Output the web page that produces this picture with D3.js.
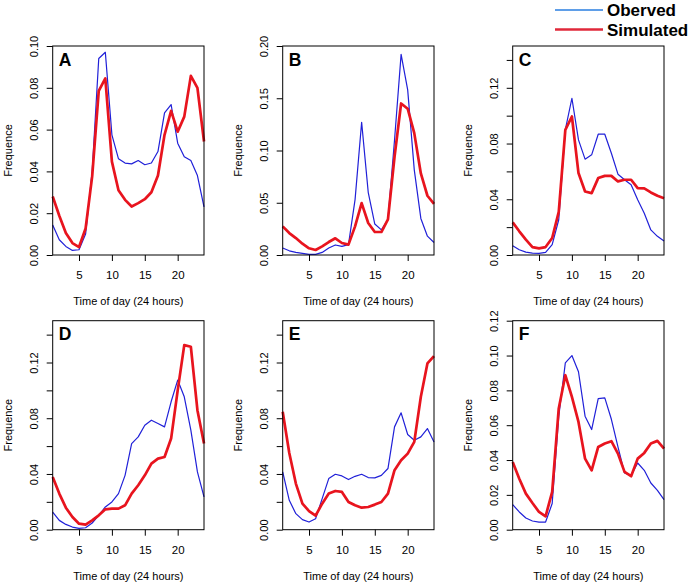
<!DOCTYPE html>
<html>
<head>
<meta charset="utf-8">
<script src="https://cdn.jsdelivr.net/npm/d3@7"></script>
<style>
  html, body { margin: 0; padding: 0; background: #fff; }
  svg { display: block; font-family: "Liberation Sans", Arial, sans-serif; }
</style>
</head>
<body>
<svg id="chart" width="689" height="584"></svg>
<script>
const hours = d3.range(1, 25);
const panelLetters = ["A", "B", "C", "D", "E", "F"];
const xTicks = [5, 10, 15, 20];
const yMax = [0.10, 0.20, 0.15, 0.15, 0.15, 0.12];
const yTickValues = [
  [0, 0.02, 0.04, 0.06, 0.08, 0.10],
  [0, 0.05, 0.10, 0.15, 0.20],
  [0, 0.02, 0.04, 0.06, 0.08, 0.10, 0.12, 0.14],
  [0, 0.02, 0.04, 0.06, 0.08, 0.10, 0.12, 0.14],
  [0, 0.02, 0.04, 0.06, 0.08, 0.10, 0.12, 0.14],
  [0, 0.02, 0.04, 0.06, 0.08, 0.10, 0.12]
];
const yTickLabels = [
  [0, 0.02, 0.04, 0.06, 0.08, 0.10],
  [0, 0.05, 0.10, 0.15, 0.20],
  [0, 0.04, 0.08, 0.12],
  [0, 0.04, 0.08, 0.12],
  [0, 0.04, 0.08, 0.12],
  [0, 0.02, 0.04, 0.06, 0.08, 0.10, 0.12]
];

const observedA = [0.0143,0.0073,0.0041,0.0022,0.0025,0.0100,0.0400,0.0940,0.0970,0.0575,0.0460,0.0440,0.0436,0.0452,0.0432,0.0440,0.0495,0.0680,0.0720,0.0535,0.0470,0.0452,0.0380,0.0230];
const simulatedA = [0.0280,0.0188,0.0105,0.0057,0.0038,0.0127,0.0376,0.0785,0.0845,0.0447,0.0310,0.0264,0.0232,0.0248,0.0267,0.0300,0.0380,0.0575,0.0690,0.0590,0.0662,0.0857,0.0800,0.0543];
const observedB = [0.0067,0.0040,0.0025,0.0016,0.0006,0.0006,0.0025,0.0067,0.0096,0.0083,0.0099,0.0530,0.1270,0.0600,0.0296,0.0240,0.0340,0.1100,0.1920,0.1580,0.0815,0.0350,0.0180,0.0120];
const simulatedB = [0.0274,0.0210,0.0162,0.0108,0.0064,0.0048,0.0083,0.0124,0.0160,0.0115,0.0099,0.0274,0.0497,0.0306,0.0220,0.0220,0.0340,0.0940,0.1450,0.1400,0.1166,0.0780,0.0567,0.0490];
const observedC = [0.0067,0.0038,0.0021,0.0014,0.0012,0.0019,0.0074,0.0253,0.0900,0.1125,0.0826,0.0688,0.0719,0.0867,0.0867,0.0730,0.0580,0.0540,0.0504,0.0396,0.0300,0.0180,0.0134,0.0100];
const simulatedC = [0.0234,0.0170,0.0110,0.0057,0.0048,0.0057,0.0122,0.0310,0.0898,0.0994,0.0588,0.0456,0.0444,0.0552,0.0568,0.0568,0.0528,0.0540,0.0540,0.0480,0.0478,0.0449,0.0425,0.0408];
const observedD = [0.0127,0.0067,0.0038,0.0019,0.0010,0.0014,0.0048,0.0103,0.0163,0.0199,0.0259,0.0390,0.0618,0.0666,0.0750,0.0786,0.0762,0.0738,0.0918,0.1074,0.0954,0.0714,0.0415,0.0235];
const simulatedD = [0.0379,0.0259,0.0158,0.0091,0.0043,0.0036,0.0067,0.0103,0.0146,0.0151,0.0151,0.0175,0.0259,0.0319,0.0390,0.0474,0.0510,0.0522,0.0654,0.1000,0.1325,0.1313,0.0858,0.0618];
const observedE = [0.0415,0.0211,0.0115,0.0072,0.0055,0.0079,0.0223,0.0367,0.0398,0.0386,0.0360,0.0383,0.0398,0.0374,0.0372,0.0390,0.0439,0.0738,0.0839,0.0683,0.0642,0.0666,0.0726,0.0630];
const simulatedE = [0.0846,0.0551,0.0331,0.0187,0.0134,0.0101,0.0187,0.0259,0.0278,0.0271,0.0199,0.0175,0.0158,0.0163,0.0180,0.0199,0.0259,0.0427,0.0498,0.0546,0.0630,0.0954,0.1193,0.1246];
const observedF = [0.0144,0.0102,0.0067,0.0050,0.0044,0.0044,0.0150,0.0650,0.0958,0.1000,0.0907,0.0652,0.0575,0.0753,0.0757,0.0634,0.0475,0.0326,0.0312,0.0383,0.0341,0.0268,0.0226,0.0173];
const simulatedF = [0.0389,0.0293,0.0207,0.0153,0.0102,0.0077,0.0217,0.0696,0.0887,0.0763,0.0619,0.0408,0.0341,0.0475,0.0495,0.0508,0.0437,0.0332,0.0307,0.0408,0.0441,0.0495,0.0510,0.0466];

const observedAll = [observedA, observedB, observedC, observedD, observedE, observedF];
const simulatedAll = [simulatedA, simulatedB, simulatedC, simulatedD, simulatedE, simulatedF];

const xTitle = "Time of day (24 hours)";
const yTitle = "Frequence";
const legendLabels = ["Oberved", "Simulated"];

const blue = "#2020d8";
const red = "#e8141e";

const svg = d3.select("#chart");

const colW = 230;
const plotLeft = 52.7;
const plotW = 151.3;
const rowTop = [46, 320.7];
const plotH = 209;

panelLetters.forEach((letter, i) => {
  const col = i % 3, row = Math.floor(i / 3);
  const x0 = col * colW + plotLeft;
  const y0 = rowTop[row];
  const g = svg.append("g").attr("transform", `translate(${x0},${y0})`);

  const x = d3.scaleLinear().domain([1, 24]).range([0, plotW]);
  const y = d3.scaleLinear().domain([0, yMax[i]]).range([plotH, 0]);

  const line = d3.line().x((d, j) => x(hours[j])).y(d => y(d));
  g.append("path").datum(observedAll[i])
    .attr("fill", "none").attr("stroke", blue).attr("stroke-width", 1.2)
    .attr("stroke-linejoin", "round").attr("d", line);
  g.append("path").datum(simulatedAll[i])
    .attr("fill", "none").attr("stroke", red).attr("stroke-width", 2.7)
    .attr("stroke-linejoin", "round").attr("d", line);

  g.append("rect").attr("x", 0).attr("y", 0).attr("width", plotW).attr("height", plotH)
    .attr("fill", "none").attr("stroke", "#000").attr("stroke-width", 1);

  const labels = yTickLabels[i];
  const yAxis = d3.axisLeft(y).tickValues(yTickValues[i]).tickSize(6).tickSizeOuter(0)
    .tickFormat(v => labels.some(l => Math.abs(l - v) < 1e-9) ? d3.format(".2f")(v) : "");
  const ya = g.append("g").call(yAxis);
  ya.select(".domain").remove();
  ya.selectAll("line").attr("stroke", "#000");
  ya.selectAll("text")
    .attr("transform", "rotate(-90)")
    .attr("x", 0).attr("y", -15).attr("dy", 0)
    .attr("text-anchor", "middle")
    .attr("font-size", 11).attr("font-family", "Liberation Sans, Arial, sans-serif")
    .attr("fill", "#000");

  const xAxis = d3.axisBottom(x).tickValues(xTicks).tickSize(6).tickSizeOuter(0);
  const xa = g.append("g").attr("transform", `translate(0,${plotH})`).call(xAxis);
  xa.select(".domain").remove();
  xa.selectAll("line").attr("stroke", "#000");
  xa.selectAll("text").attr("y", 24).attr("dy", 0)
    .attr("font-size", 11.5).attr("font-family", "Liberation Sans, Arial, sans-serif")
    .attr("fill", "#000");

  g.append("text").attr("x", plotW / 2).attr("y", plotH + 50)
    .attr("text-anchor", "middle").attr("font-size", 11).attr("fill", "#000").text(xTitle);

  g.append("text").attr("transform", `translate(${-plotLeft + 12},${plotH / 2}) rotate(-90)`)
    .attr("text-anchor", "middle").attr("font-size", 11).attr("fill", "#000").text(yTitle);

  g.append("text").attr("x", 6).attr("y", 19.5)
    .attr("font-size", 17.5).attr("font-weight", "bold").attr("fill", "#000").text(letter);
});

const legend = svg.append("g");
const legendColors = ["#2a7ee0", "#e0283a"];
const legendY = [10, 29.5];
legendLabels.forEach((lab, k) => {
  legend.append("line").attr("x1", 555).attr("x2", 603)
    .attr("y1", legendY[k]).attr("y2", legendY[k])
    .attr("stroke", legendColors[k]).attr("stroke-width", k === 0 ? 1.3 : 2.5);
  legend.append("text").attr("x", 607).attr("y", legendY[k] + 6)
    .attr("font-size", 17).attr("font-weight", "bold").attr("fill", "#000").text(lab);
});
</script>
</body>
</html>
